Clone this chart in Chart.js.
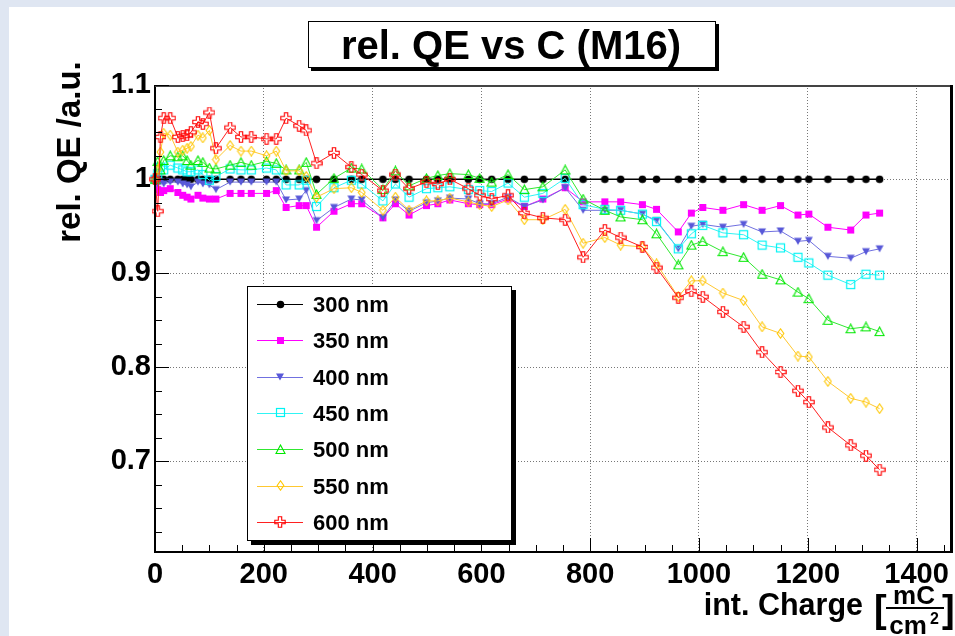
<!DOCTYPE html>
<html><head><meta charset="utf-8">
<script src="https://cdn.jsdelivr.net/npm/chart.js@4/dist/chart.umd.min.js"></script>
<style>html,body{margin:0;padding:0;background:#fff;overflow:hidden}#wrap{width:955px;height:636px;position:relative}</style>
</head><body><div id="wrap"><canvas id="c" width="955" height="636"></canvas></div>
<script>
// ---------------- data ----------------
const charge = [0,5,10,16,28,42,51,59,66,79,88,100,112,138,158,177,205,223,241,265,278,297,329,361,380,419,442,467,499,520,542,576,597,619,649,679,713,754,787,827,856,896,922,962,986,1007,1044,1082,1116,1150,1182,1202,1237,1279,1307,1332];
const qe300 = [1,1,1,1,1, 1,1,1,1,1, 1,1,1,1,1, 1,1,1,1,1, 1,1,1,1,1, 1,1,1,1,1, 1,1,1,1,1, 1,1,1,1,1, 1,1,1,1,1, 1,1,1,1,1, 1,1,1,1,1, 1];
const qe350 = [1.000,0.989,0.986,0.988,0.990, 0.986,0.983,0.981,0.979,0.983, 0.980,0.979,0.979,0.985,0.985, 0.985,0.985,0.988,0.970,0.972, 0.972,0.949,0.966,0.974,0.974, 0.959,0.974,0.962,0.972,0.974, 0.978,0.974,0.973,0.973,0.979, 0.971,0.979,0.991,0.976,0.976, 0.976,0.973,0.968,0.944,0.964, 0.970,0.967,0.973,0.967,0.972, 0.962,0.963,0.949,0.946,0.962, 0.964];
const qe400 = [1.000,0.995,0.997,0.995,0.997, 0.997,0.995,0.994,0.992,0.997, 0.995,0.994,0.989,0.997,0.997, 0.997,0.997,0.997,0.978,0.979, 0.988,0.956,0.970,0.979,0.978, 0.959,0.978,0.966,0.975,0.977, 0.980,0.979,0.974,0.974,0.981, 0.971,0.978,0.991,0.967,0.967, 0.967,0.963,0.956,0.926,0.950, 0.952,0.949,0.952,0.944,0.945, 0.934,0.935,0.918,0.916,0.923, 0.926];
const qe450 = [1.000,1.006,1.013,1.010,1.015, 1.012,1.010,1.008,1.008,1.010, 1.005,0.999,1.003,1.011,1.010, 1.010,1.012,1.010,0.994,0.994, 0.999,0.971,0.991,0.999,0.995, 0.977,0.995,0.981,0.990,0.991, 0.992,0.989,0.988,0.987,0.996, 0.981,0.985,1.001,0.973,0.968, 0.967,0.963,0.955,0.926,0.942, 0.951,0.943,0.941,0.930,0.927, 0.917,0.911,0.898,0.888,0.899, 0.898];
const qe500 = [1.000,1.019,1.010,1.020,1.025, 1.024,1.025,1.020,1.015,1.020, 1.018,1.012,1.011,1.015,1.018, 1.015,1.019,1.017,1.010,1.010, 1.018,0.984,1.001,1.012,1.011, 0.989,1.009,0.993,1.001,1.004, 1.006,1.005,1.001,0.997,1.005, 0.989,0.992,1.010,0.979,0.967, 0.960,0.957,0.942,0.909,0.930, 0.934,0.923,0.917,0.899,0.893, 0.880,0.873,0.850,0.841,0.843, 0.838];
const qe550 = [1.000,1.010,1.029,1.049,1.047, 1.029,1.031,1.033,1.035,1.047, 1.044,1.052,1.021,1.036,1.030, 1.030,1.025,1.030,1.009,1.009, 1.003,0.981,0.990,0.991,0.986, 0.967,0.981,0.967,0.977,0.977, 0.980,0.976,0.973,0.971,0.978, 0.957,0.957,0.968,0.932,0.938, 0.930,0.928,0.910,0.875,0.892, 0.892,0.879,0.871,0.843,0.836, 0.812,0.811,0.785,0.767,0.763, 0.756];
const qe600 = [1.000,0.966,1.045,1.065,1.065, 1.045,1.046,1.047,1.050,1.061, 1.059,1.071,1.033,1.055,1.045, 1.045,1.043,1.043,1.065,1.057, 1.052,1.017,1.028,1.013,1.005, 0.988,1.005,0.990,0.997,0.995, 1.000,0.990,0.983,0.979,0.983, 0.964,0.959,0.957,0.917,0.946, 0.938,0.928,0.906,0.874,0.881, 0.875,0.859,0.843,0.816,0.795, 0.775,0.763,0.736,0.717,0.706, 0.691];
const seriesNames = ['300 nm','350 nm','400 nm','450 nm','500 nm','550 nm','600 nm'];
const xTickValues = [0,200,400,600,800,1000,1200,1400];
const xTickLabels = ['0','200','400','600','800','1000','1200','1400'];
const yTickValues = [0.7,0.8,0.9,1.0,1.1];
const yTickLabels = ['0.7','0.8','0.9','1','1.1'];
const titleText = 'rel. QE vs C (M16)';
const yTitleText = 'rel. QE /a.u.';
const xTitleText = 'int. Charge';
const xUnitNum = 'mC';
const xUnitDen = 'cm';

// ---------------- styling ----------------
const FONT = '"Liberation Sans", Arial, Helvetica, sans-serif';
const colors = ['#000000','#ff00ff','#5858d8','#00f4f4','#00e800','#ffc800','#ff0000'];
const lineColors = ['#000000','#ff00ff','#7070e0','#30f4f4','#30e830','#ffc830','#ff2020'];

function mk(w,h,fn){const c=document.createElement('canvas');c.width=w;c.height=h;const g=c.getContext('2d');fn(g);return c;}
const markers = [
  mk(9,9,g=>{g.fillStyle=colors[0];g.beginPath();g.arc(4.5,4.5,3.8,0,Math.PI*2);g.fill();}),
  mk(9,9,g=>{g.fillStyle=colors[1];g.fillRect(1,1,7,7);}),
  mk(10,10,g=>{g.fillStyle=colors[2];g.beginPath();g.moveTo(1,1.5);g.lineTo(9,1.5);g.lineTo(5,8.5);g.closePath();g.fill();}),
  mk(11,11,g=>{g.strokeStyle=colors[3];g.lineWidth=1.2;g.strokeRect(1.5,1.5,8,8);}),
  mk(11,11,g=>{g.strokeStyle=colors[4];g.lineWidth=1.1;g.beginPath();g.moveTo(5.5,1);g.lineTo(10,9.5);g.lineTo(1,9.5);g.closePath();g.stroke();}),
  mk(9,11,g=>{g.strokeStyle=colors[5];g.lineWidth=1.1;g.beginPath();g.moveTo(4.5,0.8);g.lineTo(7.8,5.5);g.lineTo(4.5,10.2);g.lineTo(1.2,5.5);g.closePath();g.stroke();}),
  mk(12,12,g=>{g.strokeStyle=colors[6];g.lineWidth=1.1;const a=1.7,b=5.2,c=6;g.beginPath();
    g.moveTo(c-a,c-b);g.lineTo(c+a,c-b);g.lineTo(c+a,c-a);g.lineTo(c+b,c-a);g.lineTo(c+b,c+a);g.lineTo(c+a,c+a);
    g.lineTo(c+a,c+b);g.lineTo(c-a,c+b);g.lineTo(c-a,c+a);g.lineTo(c-b,c+a);g.lineTo(c-b,c-a);g.lineTo(c-a,c-a);g.closePath();g.stroke();})
];

const allSeries = [qe300,qe350,qe400,qe450,qe500,qe550,qe600];
const datasets = allSeries.map((arr,i)=>({
  label: seriesNames[i],
  data: charge.map((x,j)=>({x:x,y:arr[j]})),
  borderColor: lineColors[i],
  backgroundColor: colors[i],
  borderWidth: i === 0 ? 1.5 : 1,
  pointStyle: markers[i],
  pointRadius: 5,
  pointHoverRadius: 5,
  tension: 0,
  order: allSeries.length - i,
  clip: false
}));

// ---------------- decorations plugin ----------------
const rootDeco = {
  id: 'rootDeco',
  beforeDraw(chart){
    const ctx = chart.ctx;
    ctx.save();
    ctx.fillStyle = '#dfe6f2'; ctx.fillRect(0,0,chart.width,chart.height);
    ctx.fillStyle = '#ffffff'; ctx.fillRect(9,7,chart.width-9,chart.height-7);
    ctx.restore();
  },
  afterDraw(chart){
    const ctx = chart.ctx, a = chart.chartArea;
    const xs = chart.scales.x, ys = chart.scales.y;
    ctx.save();
    ctx.setLineDash([]);
    // frame
    ctx.strokeStyle = '#000'; ctx.lineWidth = 2;
    ctx.beginPath(); ctx.moveTo(a.left, a.top); ctx.lineTo(a.left, a.bottom); ctx.lineTo(a.right, a.bottom); ctx.stroke();
    ctx.strokeStyle = '#444'; ctx.beginPath(); ctx.moveTo(a.left, a.top+1); ctx.lineTo(a.right, a.top+1); ctx.stroke();
    ctx.fillStyle = '#000'; ctx.fillRect(a.right-3, a.top, 3, a.bottom-a.top+1);
    // ticks
    ctx.strokeStyle = '#000'; ctx.lineWidth = 1;
    for (let v = 0; v <= xs.max; v += 50) {
      const px = Math.round(xs.getPixelForValue(v)) + 0.5;
      const len = (v % 200 === 0) ? 14 : 7;
      ctx.beginPath(); ctx.moveTo(px, a.bottom); ctx.lineTo(px, a.bottom - len); ctx.stroke();
    }
    for (let k = 0; ; k++) {
      const v = 0.625 + k*0.025;
      if (v > ys.max + 1e-9) break;
      const py = Math.round(ys.getPixelForValue(v)) + 0.5;
      const major = Math.abs(v*10 - Math.round(v*10)) < 1e-6;
      const len = major ? 14 : 7;
      ctx.beginPath(); ctx.moveTo(a.left, py); ctx.lineTo(a.left + len, py); ctx.stroke();
    }
    // title box
    ctx.fillStyle = '#000'; ctx.fillRect(311, 24, 408, 47);
    ctx.fillStyle = '#fff'; ctx.fillRect(308, 21, 408, 47);
    ctx.strokeStyle = '#000'; ctx.lineWidth = 1; ctx.strokeRect(308.5, 21.5, 407, 46);
    ctx.fillStyle = '#000'; ctx.font = 'bold 40px ' + FONT; ctx.textAlign = 'center'; ctx.textBaseline = 'alphabetic';
    ctx.fillText(titleText, 511, 59);
    // y title
    ctx.save(); ctx.translate(80, 152); ctx.rotate(-Math.PI/2);
    ctx.font = 'bold 33px ' + FONT; ctx.textAlign = 'center'; ctx.textBaseline = 'alphabetic';
    ctx.fillText(yTitleText, 0, 0); ctx.restore();
    // x title
    ctx.font = 'bold 30.5px ' + FONT; ctx.textAlign = 'right'; ctx.textBaseline = 'alphabetic';
    ctx.fillText(xTitleText, 863, 615);
    ctx.font = 'bold 38px ' + FONT; ctx.textAlign = 'left';
    ctx.fillText('[', 874, 622);
    ctx.fillText(']', 942, 622);
    ctx.font = 'bold 26px ' + FONT; ctx.textAlign = 'center';
    ctx.fillText(xUnitNum, 914, 604);
    ctx.fillText(xUnitDen, 908, 634);
    ctx.font = 'bold 16px ' + FONT; ctx.textAlign = 'left';
    ctx.fillText('2', 930, 624);
    ctx.fillRect(886, 607, 58, 2);
    // legend
    const L = {x:247, y:286, w:265, h:255};
    ctx.fillStyle = '#000'; ctx.fillRect(L.x+4, L.y+4, L.w, L.h);
    ctx.fillStyle = '#fff'; ctx.fillRect(L.x, L.y, L.w, L.h);
    ctx.strokeStyle = '#000'; ctx.lineWidth = 1; ctx.strokeRect(L.x+0.5, L.y+0.5, L.w-1, L.h-1);
    ctx.font = 'bold 22px ' + FONT; ctx.textAlign = 'left'; ctx.textBaseline = 'alphabetic';
    for (let i = 0; i < seriesNames.length; i++) {
      const cy = 304 + i*36.3;
      ctx.strokeStyle = lineColors[i]; ctx.lineWidth = 1.2;
      ctx.beginPath(); ctx.moveTo(257, Math.round(cy)+0.5); ctx.lineTo(303, Math.round(cy)+0.5); ctx.stroke();
      const m = markers[i];
      ctx.drawImage(m, Math.round(280 - m.width/2), Math.round(cy - m.height/2));
      ctx.fillStyle = '#000';
      ctx.fillText(seriesNames[i], 313, cy + 8);
    }
    ctx.restore();
  }
};

new Chart(document.getElementById('c'), {
  type: 'line',
  data: { datasets: datasets },
  options: {
    responsive: false,
    animation: false,
    devicePixelRatio: 1,
    events: [],
    layout: { autoPadding: false, padding: { left: 0, top: 85, right: 2, bottom: 0 } },
    plugins: { legend: { display: false }, title: { display: false }, tooltip: { enabled: false } },
    scales: {
      x: {
        type: 'linear', min: 0, max: 1467,
        afterBuildTicks: s => { s.ticks = xTickValues.map(v => ({ value: v })); },
        afterFit: s => { s.height = 84; s.paddingLeft = 0; s.paddingRight = 0; },
        ticks: { callback: (v) => xTickLabels[xTickValues.indexOf(v)], color: '#000', font: { family: FONT, size: 29, weight: 'bold' }, padding: 6, maxRotation: 0, autoSkip: false },
        grid: { color: '#777', lineWidth: 1, drawTicks: false },
        border: { display: false, dash: [1, 2] }
      },
      y: {
        type: 'linear', min: 0.6035, max: 1.1003,
        afterBuildTicks: s => { s.ticks = yTickValues.map(v => ({ value: v })); },
        afterFit: s => { s.width = 155; s.paddingTop = 0; s.paddingBottom = 0; },
        ticks: { callback: (v) => { const k = yTickValues.findIndex(t => Math.abs(t - v) < 1e-9); return k >= 0 ? yTickLabels[k] : ''; }, color: '#000', font: { family: FONT, size: 29, weight: 'bold' }, padding: 4, autoSkip: false },
        grid: { color: '#777', lineWidth: 1, drawTicks: false },
        border: { display: false, dash: [1, 2] }
      }
    }
  },
  plugins: [rootDeco]
});
</script></body></html>
